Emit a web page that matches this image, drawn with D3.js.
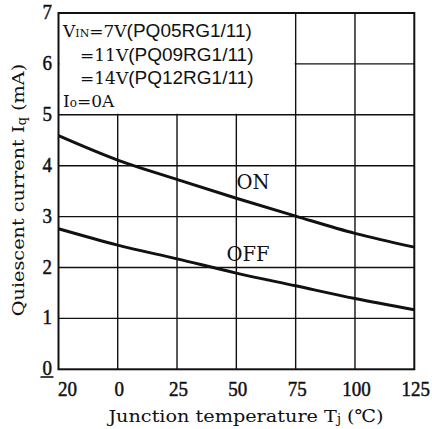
<!DOCTYPE html>
<html>
<head>
<meta charset="utf-8">
<script src="https://cdn.jsdelivr.net/npm/d3@7"></script>
<style>
  html, body { margin: 0; padding: 0; background: #fff; }
  svg { display: block; }
  text { font-family: "DejaVu Serif", "Liberation Serif", serif; fill: #111; }
  .num { font-family: "Liberation Serif", "DejaVu Serif", serif; stroke: #111; stroke-width: 0.45; }
  .sans { font-family: "Liberation Sans", Arial, sans-serif; }
</style>
</head>
<body>
<svg id="chart" width="432" height="429"></svg>
<script>
// Junction temperature (°C) at each grid column
const temps = [-20, 0, 25, 50, 75, 100, 125];
// Quiescent current (mA), output ON
const iqOn = [4.59, 4.11, 3.73, 3.36, 3.01, 2.67, 2.40];
// Quiescent current (mA), output OFF
const iqOff = [2.76, 2.44, 2.17, 1.89, 1.64, 1.39, 1.17];
const xTicks = [-20, 0, 25, 50, 75, 100, 125];
const xTickLabels = ["20", "0", "25", "50", "75", "100", "125"];
const yTicks = [0, 1, 2, 3, 4, 5, 6, 7];

const svg = d3.select("#chart");

// First column spans -20..0 with the same width as the 25-degree columns
const x = d3.scaleLinear().domain([-20, 0, 125]).range([58.5, 117.7, 414.3]);
const y = d3.scaleLinear().domain([0, 7]).range([369.3, 13]);

const ink = "#111";

// text placed through a transform so it can be stretched
function label(parent, px, py, size, anchor, sy = 1, sx = 1) {
  return parent.append("text")
    .attr("transform", `translate(${px},${py}) scale(${sx},${sy})`)
    .attr("font-size", size).attr("text-anchor", anchor);
}

const grid = svg.append("g");
// vertical grid lines
grid.selectAll("line.v").data(xTicks.slice(1, -1)).join("line")
  .attr("x1", d => x(d)).attr("x2", d => x(d))
  .attr("y1", y(0)).attr("y2", y(7))
  .attr("stroke", ink).attr("stroke-width", 1.4);
// horizontal grid lines
grid.selectAll("line.h").data(yTicks.slice(1, -1)).join("line")
  .attr("x1", x(-20)).attr("x2", x(125))
  .attr("y1", d => y(d)).attr("y2", d => y(d))
  .attr("stroke", ink).attr("stroke-width", 1.4);

// condition box in the upper-left cells
svg.append("rect")
  .attr("x", x(-20) + 1).attr("y", y(7) + 1)
  .attr("width", x(75) - x(-20) - 2).attr("height", y(5) - y(7) - 2)
  .attr("fill", "#fff");

// frame
svg.append("rect")
  .attr("x", x(-20)).attr("y", y(7))
  .attr("width", x(125) - x(-20)).attr("height", y(0) - y(7))
  .attr("fill", "none").attr("stroke", ink).attr("stroke-width", 2);

// curves
const line = d3.line().x((d, i) => x(temps[i])).y(d => y(d)).curve(d3.curveMonotoneX);
[iqOn, iqOff].forEach(s => {
  svg.append("path").attr("d", line(s))
    .attr("fill", "none").attr("stroke", ink).attr("stroke-width", 3);
});

// curve labels
label(svg, 253, 189, 19.5, "middle").text("ON");
label(svg, 248, 261, 19.5, "middle").text("OFF");

// y tick labels
const yg = svg.append("g");
yTicks.forEach(d => {
  label(yg, 52, y(d) + 6, 19, "end", 1.12).attr("class", "num").text(d);
});

// x tick labels
const xg = svg.append("g");
xTicks.forEach((d, i) => {
  label(xg, x(d) + (i === 0 ? 9 : 1.5), 396, 19, "middle", 1.15)
    .attr("class", "num").text(xTickLabels[i]);
});
// raised minus sign of the first label
xg.append("line")
  .attr("x1", x(-20) - 18).attr("x2", x(-20) - 5)
  .attr("y1", 377).attr("y2", 377)
  .attr("stroke", ink).attr("stroke-width", 1.6);

// axis titles
const xt = label(svg, 246, 422, 17.5, "middle", 1, 1.1);
xt.append("tspan").text("Junction temperature T");
xt.append("tspan").attr("font-size", 12).attr("dy", 1).text("j");
xt.append("tspan").attr("dy", -1).text(" (\u2103)");

const yt = svg.append("text").attr("transform", "translate(24,190) rotate(-90) scale(1.1,1)")
  .attr("text-anchor", "middle").attr("font-size", 17.5);
yt.append("tspan").text("Quiescent current I");
yt.append("tspan").attr("font-size", 12).attr("dy", 2).text("q");
yt.append("tspan").attr("dy", -2).text(" (mA)");

// operating conditions
const cond = svg.append("g").attr("font-size", 17);
const rows = [
  { x: 63, y: 37, pre: "V", sub: "IN", val: "=7V", part: "(PQ05RG1/11)" },
  { x: 80, y: 61, val: "=11V", part: "(PQ09RG1/11)" },
  { x: 80, y: 84, val: "=14V", part: "(PQ12RG1/11)" }
];
rows.forEach(r => {
  const t = cond.append("text").attr("x", r.x).attr("y", r.y);
  if (r.pre) {
    t.append("tspan").text(r.pre);
    t.append("tspan").attr("font-size", 11).text(r.sub);
  }
  t.append("tspan").text(r.val);
  t.append("tspan").attr("class", "sans").attr("font-size", 19).text(r.part);
});
const io = cond.append("text").attr("x", 63).attr("y", 107);
io.append("tspan").text("I");
io.append("tspan").attr("font-size", 12).text("o");
io.append("tspan").text("=0A");
</script>
</body>
</html>
